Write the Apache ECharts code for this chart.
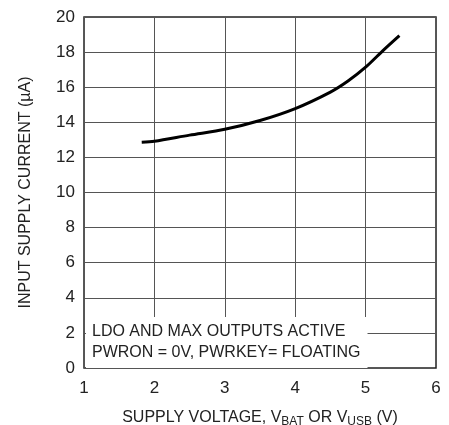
<!DOCTYPE html>
<html>
<head>
<meta charset="utf-8">
<script src="https://cdn.jsdelivr.net/npm/echarts@6/dist/echarts.min.js"></script>
<style>
  html, body { margin: 0; padding: 0; background: #fff; }
  #chart { width: 449px; height: 425px; }
</style>
</head>
<body>
<div id="chart"></div>
<script>
// supply voltage (V) vs input supply current (uA)
var voltage = [1.82, 2.0, 2.5, 3.0, 3.5, 4.0, 4.5, 4.75, 5.0, 5.25, 5.48];
var current = [12.86, 12.92, 13.27, 13.6, 14.1, 14.78, 15.72, 16.35, 17.14, 18.1, 18.94];
var xTicks = [1, 2, 3, 4, 5, 6];
var yTicks = [0, 2, 4, 6, 8, 10, 12, 14, 16, 18, 20];

var font = "'Liberation Sans Narrow', 'Arial Narrow', 'Liberation Sans', sans-serif";

var points = [];
for (var i = 0; i < voltage.length; i++) {
	points.push([voltage[i], current[i]]);
}

var chart = echarts.init(document.getElementById('chart'));

var options = {
	animation: false,
	backgroundColor: '#fff',
	grid: {
		left: 84, top: 17, width: 352, height: 351,
		outerBoundsMode: 'none',
		containLabel: false,
		show: true,
		borderColor: '#222',
		borderWidth: 1.5
	},
	title: {
		text: 'LDO AND MAX OUTPUTS ACTIVE\nPWRON = 0V, PWRKEY= FLOATING',
		left: 86,
		top: 317,
		backgroundColor: '#fff',
		padding: [4, 7, 5, 6],
		textStyle: {
			fontFamily: font,
			fontWeight: 'normal',
			fontSize: 16,
			lineHeight: 21,
			color: '#222',
			width: 263
		}
	},
	xAxis: {
		type: 'value',
		min: xTicks[0],
		max: xTicks[xTicks.length - 1],
		interval: 1,
		name: 'SUPPLY VOLTAGE, V{sub|BAT} OR V{sub|USB} (V)',
		nameLocation: 'middle',
		nameGap: 39,
		nameTextStyle: {
			fontFamily: font,
			fontSize: 16,
			color: '#222',
			rich: {
				sub: { fontFamily: font, fontSize: 12, color: '#222', padding: [9, 0, 0, 0] }
			}
		},
		axisLine: { show: false },
		axisTick: { show: false },
		axisLabel: { fontFamily: font, fontSize: 17, color: '#222', margin: 12 },
		splitLine: { show: true, lineStyle: { color: '#555', width: 1 } }
	},
	yAxis: {
		type: 'value',
		min: yTicks[0],
		max: yTicks[yTicks.length - 1],
		interval: 2,
		name: 'INPUT SUPPLY CURRENT (\u00b5A)',
		nameLocation: 'middle',
		nameGap: 50,
		nameTextStyle: { fontFamily: font, fontSize: 16, color: '#222' },
		axisLine: { show: false },
		axisTick: { show: false },
		axisLabel: { fontFamily: font, fontSize: 17, color: '#222', margin: 9 },
		splitLine: { show: true, lineStyle: { color: '#555', width: 1 } }
	},
	series: [{
		type: 'line',
		data: points,
		smooth: 0.3,
		showSymbol: false,
		lineStyle: { color: '#000', width: 3 }
	}]
};

chart.setOption(options);
</script>
</body>
</html>
